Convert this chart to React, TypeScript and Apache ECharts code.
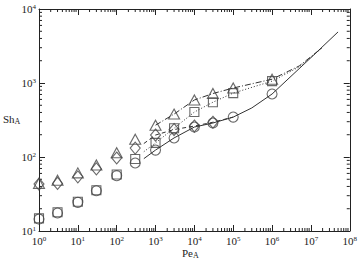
import React, { useEffect, useRef } from 'react';
import * as echarts from 'echarts';

// Marker data (Pe_A, Sh_A)
const peMarkers = [1, 3, 10, 30, 100, 300, 1000, 3000, 10000, 30000, 100000, 1000000];
const shTriangle = [44, 48.6, 61, 78, 114, 174, 269, 380, 589, 721, 855, 1125];
const shDiamond = [43, 44, 54, 69, 97, 132, 198, 235, 262, 295, null, null];
const shSquare = [14.8, 17.9, 24.8, 35.5, 58, 94, 155, 245, 405, 550, 730, 1060];
const shCircle = [14.5, 17.5, 24.4, 35, 56, 83, 124, 181, 254, 288, 346, 710];

// Curves
const peLineSolid = [500, 1000, 3000, 10000, 30000, 100000, 300000, 1000000, 10000000, 50000000];
const shLineSolid = [95, 124, 181, 254, 288, 346, 460, 710, 2200, 4900];
const peLineDotted = [500, 1000, 3000, 10000, 30000, 100000, 1000000, 5000000, 20000000];
const shLineDotted = [118, 155, 245, 405, 550, 730, 1060, 1650, 3020];
const peLineDashDot = [1000, 3000, 10000, 30000, 100000, 1000000, 5000000, 20000000];
const shLineDashDot = [269, 380, 589, 721, 855, 1125, 1700, 3020];
const peLineDashed = [500, 1000, 3000, 10000, 30000, 100000];
const shLineDashed = [152, 198, 235, 262, 295, 346];

// Axes
const xMin = 1;
const xMax = 1e8;
const yMin = 10;
const yMax = 1e4;
const minorMultipliers = [2, 3, 4, 5, 6, 7, 8, 9];
const xDecades = [0, 1, 2, 3, 4, 5, 6, 7];
const yDecades = [1, 2, 3];

export default function App() {
  const ref = useRef<HTMLDivElement>(null);
  useEffect(() => {
    const chart = echarts.init(ref.current!, null, { renderer: 'svg' });
    const serif = 'Liberation Serif';
    const ink = '#222';
    const mk = '#444';
    const pair = (xs: number[], ys: (number | null)[]) =>
      xs.map((x, i) => [x, ys[i]]).filter((p) => p[1] != null);

    const rich = {
      b: { fontFamily: serif, fontSize: 11, color: ink, verticalAlign: 'bottom', lineHeight: 11 },
      s: { fontFamily: serif, fontSize: 7, color: ink, verticalAlign: 'top', lineHeight: 11 },
    };
    const fmt = (v: number) => `{b|10}{s|${Math.round(Math.log10(v))}}`;

    // minor tick data: [value, sideCode] 1=bottom 2=top 3=left 4=right
    const minorTicks: number[][] = [];
    xDecades.forEach((k) =>
      minorMultipliers.forEach((m) => {
        minorTicks.push([m * Math.pow(10, k), 1]);
        minorTicks.push([m * Math.pow(10, k), 2]);
      })
    );
    yDecades.forEach((k) =>
      minorMultipliers.forEach((m) => {
        minorTicks.push([m * Math.pow(10, k), 3]);
        minorTicks.push([m * Math.pow(10, k), 4]);
      })
    );

    const axisCommon = {
      type: 'log' as const,
      logBase: 10,
      axisLine: { show: true, lineStyle: { color: ink, width: 1 } },
      axisTick: { show: true, inside: true, length: 6, lineStyle: { color: ink } },
      splitLine: { show: false },
      minorTick: { show: false },
    };

    const markerStyle = { color: 'transparent', borderColor: mk, borderWidth: 1.1 };
    const nameRich = {
      m: { fontFamily: serif, fontSize: 11, fill: ink, verticalAlign: 'top', lineHeight: 12 },
      a: { fontFamily: serif, fontSize: 8, fill: ink, verticalAlign: 'bottom', lineHeight: 12 },
    };

    chart.setOption({
      animation: false,
      backgroundColor: '#fff',
      grid: { left: 39, right: 4, top: 9, bottom: 29, containLabel: false },
      xAxis: [
        {
          ...axisCommon,
          position: 'bottom',
          min: xMin,
          max: xMax,
          splitNumber: 8,
          axisLabel: { show: true, formatter: fmt, rich, margin: 4 },
        },
        {
          ...axisCommon,
          position: 'top',
          min: xMin,
          max: xMax,
          splitNumber: 8,
          axisLabel: { show: false },
        },
      ],
      yAxis: [
        {
          ...axisCommon,
          position: 'left',
          min: yMin,
          max: yMax,
          splitNumber: 3,
          axisLabel: { show: true, formatter: fmt, rich, margin: 3 },
        },
        {
          ...axisCommon,
          position: 'right',
          min: yMin,
          max: yMax,
          splitNumber: 3,
          axisLabel: { show: false },
        },
      ],
      graphic: [
        {
          type: 'text',
          left: 3,
          top: 113,
          style: { text: '{m|Sh}{a|A}', rich: nameRich },
        },
        {
          type: 'text',
          left: 182,
          top: 247,
          style: { text: '{m|Pe}{a|A}', rich: nameRich },
        },
      ],
      series: [
        {
          type: 'custom',
          xAxisIndex: 0,
          yAxisIndex: 0,
          silent: true,
          encode: { x: 0, y: 1 },
          data: minorTicks,
          renderItem: (params: any, api: any) => {
            const v = api.value(0);
            const side = api.value(1);
            const len = 3;
            let x1 = 0, y1 = 0, x2 = 0, y2 = 0;
            if (side === 1) {
              const p = api.coord([v, yMin]);
              x1 = x2 = p[0]; y1 = p[1]; y2 = p[1] - len;
            } else if (side === 2) {
              const p = api.coord([v, yMax]);
              x1 = x2 = p[0]; y1 = p[1]; y2 = p[1] + len;
            } else if (side === 3) {
              const p = api.coord([xMin, v]);
              y1 = y2 = p[1]; x1 = p[0]; x2 = p[0] + len;
            } else {
              const p = api.coord([xMax, v]);
              y1 = y2 = p[1]; x1 = p[0]; x2 = p[0] - len;
            }
            return {
              type: 'line',
              shape: { x1, y1, x2, y2 },
              style: { stroke: ink, lineWidth: 1 },
            };
          },
        },
        {
          type: 'line',
          data: pair(peLineSolid, shLineSolid),
          showSymbol: false,
          lineStyle: { color: '#333', width: 1, type: 'solid' },
        },
        {
          type: 'line',
          data: pair(peLineDotted, shLineDotted),
          showSymbol: false,
          lineStyle: { color: '#333', width: 1, type: [1, 2] },
        },
        {
          type: 'line',
          data: pair(peLineDashDot, shLineDashDot),
          showSymbol: false,
          lineStyle: { color: '#333', width: 1, type: [6, 2, 1, 2] },
        },
        {
          type: 'line',
          data: pair(peLineDashed, shLineDashed),
          showSymbol: false,
          lineStyle: { color: '#333', width: 1, type: [4, 3] },
        },
        {
          type: 'scatter',
          data: pair(peMarkers, shTriangle),
          symbol: 'triangle',
          symbolSize: [11, 10],
          itemStyle: markerStyle,
        },
        {
          type: 'scatter',
          data: pair(peMarkers, shDiamond),
          symbol: 'diamond',
          symbolSize: [10, 12],
          itemStyle: markerStyle,
        },
        {
          type: 'scatter',
          data: pair(peMarkers, shSquare),
          symbol: 'rect',
          symbolSize: 9,
          itemStyle: markerStyle,
        },
        {
          type: 'scatter',
          data: pair(peMarkers, shCircle),
          symbol: 'circle',
          symbolSize: 10,
          itemStyle: markerStyle,
        },
      ],
    });
    return () => chart.dispose();
  }, []);
  return (
    <div
      ref={ref}
      style={{ position: 'fixed', left: 0, top: 0, width: 360, height: 260, background: '#fff' }}
    />
  );
}
